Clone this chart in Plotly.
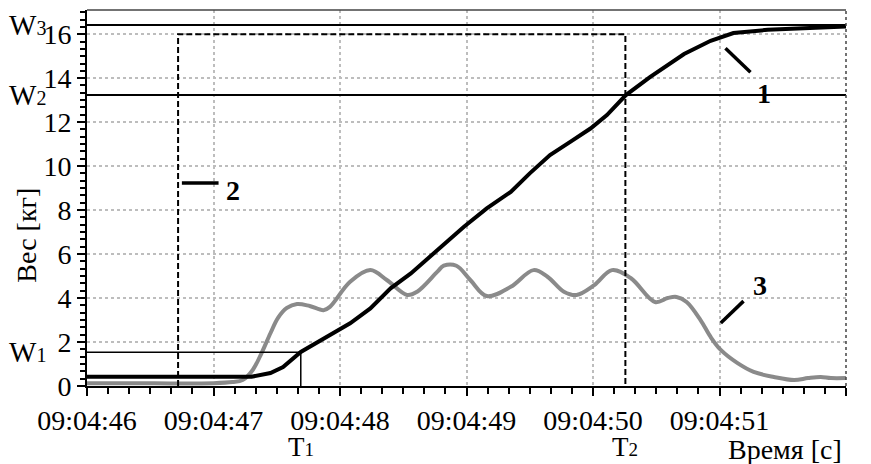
import plotly.graph_objects as go

# Series 1: weight (black)
t1 = [46.0, 47.3, 47.45, 47.55, 47.69, 47.92, 48.08, 48.24, 48.40, 48.56, 48.71, 48.85, 48.98, 49.16,
      49.35, 49.50, 49.66, 49.82, 49.98, 50.11, 50.26, 50.45, 50.72, 50.93, 51.11, 51.38, 51.75, 52.0]
w1 = [0.42, 0.42, 0.59, 0.86, 1.55, 2.32, 2.85, 3.53, 4.44, 5.12, 5.88, 6.64, 7.24, 8.08,
      8.83, 9.67, 10.5, 11.1, 11.71, 12.32, 13.23, 14.05, 15.1, 15.7, 16.05, 16.2, 16.3, 16.35]

# Series 2: dashed gate signal
t2 = [46.72, 46.72, 50.256, 50.256]
w2 = [0, 16, 16, 0]

# Series 3: gray flow curve
t3 = [46.0, 46.5, 47.0, 47.15, 47.23, 47.31, 47.38, 47.45, 47.51, 47.58, 47.66, 47.76, 47.87, 47.92,
      48.08, 48.24, 48.37, 48.53, 48.61, 48.77, 48.82, 48.92, 49.03, 49.16, 49.35, 49.53, 49.64,
      49.77, 49.87, 50.01, 50.15, 50.30, 50.49, 50.59, 50.66, 50.74, 50.85,
      50.93, 51.01, 51.14, 51.27, 51.43, 51.59, 51.7, 51.8, 51.88, 52.0]
w3 = [0.12, 0.12, 0.13, 0.18, 0.27, 0.73, 1.5, 2.4, 3.1, 3.55, 3.73, 3.64, 3.45, 3.6,
      4.74, 5.27, 4.82, 4.14, 4.29, 5.2, 5.47, 5.47, 4.82, 4.09, 4.51, 5.27, 4.97,
      4.29, 4.14, 4.59, 5.27, 4.9, 3.82, 4.0, 4.05, 3.82, 3.0,
      2.23, 1.64, 1.05, 0.64, 0.41, 0.27, 0.36, 0.41, 0.36, 0.36]

# Reference levels / times
W_levels = {"1": 1.53, "2": 13.23, "3": 16.42}
T1 = 47.69
T2 = 50.256

x_ticks = [46, 47, 48, 49, 50, 51, 52]
x_labels = ["09:04:46", "09:04:47", "09:04:48", "09:04:49", "09:04:50", "09:04:51", "09:04:52"]
y_ticks = [0, 2, 4, 6, 8, 10, 12, 14, 16]

FONT = "Liberation Serif, Times New Roman, serif"

fig = go.Figure()
fig.add_trace(go.Scatter(x=t3, y=w3, mode="lines", line=dict(color="#8a8a8a", width=4, shape="spline"),
                         showlegend=False))
fig.add_trace(go.Scatter(x=t1, y=w1, mode="lines", line=dict(color="black", width=4),
                         showlegend=False))
fig.add_trace(go.Scatter(x=t2, y=w2, mode="lines", line=dict(color="black", width=2, dash="6px,3px"),
                         showlegend=False))

shapes = []
for k in ["3", "2"]:
    shapes.append(dict(type="line", xref="paper", x0=0, x1=1, yref="y", y0=W_levels[k], y1=W_levels[k],
                       line=dict(color="black", width=2)))
shapes.append(dict(type="line", xref="x", x0=46, x1=T1, yref="y", y0=W_levels["1"], y1=W_levels["1"],
                   line=dict(color="black", width=1.5)))
shapes.append(dict(type="line", xref="x", x0=T1, x1=T1, yref="y", y0=0, y1=W_levels["1"],
                   line=dict(color="black", width=1.5)))
shapes.append(dict(type="line", xref="paper", x0=0, x1=1, yref="paper", y0=1, y1=1,
                   line=dict(color="#444", width=1.5)))
shapes.append(dict(type="line", xref="paper", x0=1, x1=1, yref="paper", y0=0, y1=1,
                   line=dict(color="#444", width=1.5, dash="dot")))
callouts = [((51.047, 15.36), (51.245, 14.27)),
            ((46.75, 9.23), (47.04, 9.23)),
            ((51.01, 2.86), (51.19, 3.86))]
for (a, b) in callouts:
    shapes.append(dict(type="line", xref="x", yref="y", x0=a[0], y0=a[1], x1=b[0], y1=b[1],
                       line=dict(color="black", width=3.5)))

annotations = []
for k, v in W_levels.items():
    annotations.append(dict(xref="paper", x=-0.079, yref="y", y=v, xanchor="center", yanchor="middle",
                            text=f"W<span style='font-size:20px'>{k}</span>", showarrow=False,
                            font=dict(family=FONT, size=29, color="black")))
for lbl, (x, y) in {"1": (51.35, 13.32), "2": (47.155, 8.9), "3": (51.32, 4.59)}.items():
    annotations.append(dict(xref="x", yref="y", x=x, y=y, text=f"<b>{lbl}</b>", showarrow=False,
                            font=dict(family=FONT, size=28, color="black")))
for lbl, tx in [("1", T1), ("2", T2)]:
    annotations.append(dict(xref="x", x=tx, yref="paper", y=-0.163, yanchor="middle", xanchor="center",
                            text=f"T<span style='font-size:19px'>{lbl}</span>", showarrow=False,
                            font=dict(family=FONT, size=27, color="black")))
annotations.append(dict(xref="paper", x=0.92, yref="paper", y=-0.168, yanchor="middle", xanchor="center",
                        text="Время [с]", showarrow=False, font=dict(family=FONT, size=28, color="black")))
annotations.append(dict(xref="paper", x=-0.079, yref="paper", y=0.40, yanchor="middle", xanchor="center",
                        text="Вес [кг]", textangle=-90, showarrow=False,
                        font=dict(family=FONT, size=28, color="black")))

# page body has an 8px margin: shrink figure so the plot area lands where the reference has it
fig.update_layout(
    width=863, height=456,
    margin=dict(l=79, r=25, t=2, b=78),
    plot_bgcolor="white", paper_bgcolor="white",
    font=dict(family=FONT, size=28, color="black"),
    shapes=shapes, annotations=annotations,
    xaxis=dict(range=[46, 52], tickvals=x_ticks, ticktext=x_labels, showline=True, linecolor="black",
               linewidth=2, ticks="outside", ticklen=8, tickwidth=2, tickcolor="black",
               showgrid=True, gridcolor="#bdbdbd", gridwidth=1.5, griddash="dot", zeroline=False,
               tickfont=dict(family=FONT, size=28),
               minor=dict(dtick=1/6, ticks="outside", ticklen=6, tickwidth=1.5, tickcolor="black",
                          showgrid=False)),
    yaxis=dict(range=[0, 17.1], tickvals=y_ticks, showline=True, linecolor="black", linewidth=2,
               ticks="outside", ticklen=8, tickwidth=2, tickcolor="black",
               showgrid=True, gridcolor="#bdbdbd", gridwidth=1.5, griddash="dot", zeroline=False,
               tickfont=dict(family=FONT, size=28),
               minor=dict(dtick=1/3, ticks="outside", ticklen=5, tickwidth=1.5, tickcolor="black",
                          showgrid=False)),
)

fig.write_html("out.html")
